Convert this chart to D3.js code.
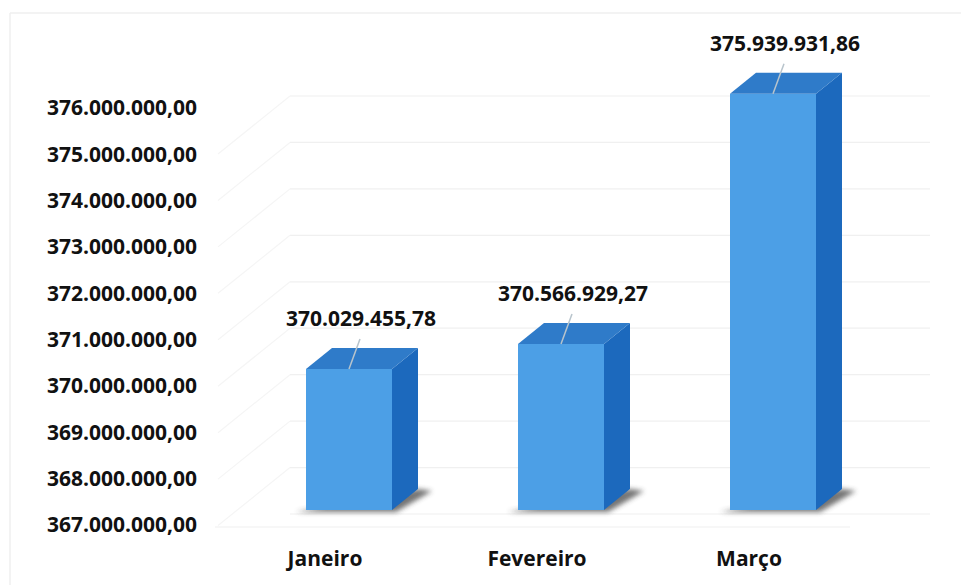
<!DOCTYPE html>
<html>
<head>
<meta charset="utf-8">
<script src="https://cdn.jsdelivr.net/npm/d3@7"></script>
<style>
  html, body { margin: 0; padding: 0; background: #fff; }
  svg text { font-family: "Open Sans", "Noto Sans", sans-serif; font-weight: 700; fill: #111; }
</style>
</head>
<body>
<div id="chart"></div>
<script>
(function () {
  "use strict";

  // data
  const months = ["Janeiro", "Fevereiro", "Março"];
  const values = [370029455.78, 370566929.27, 375939931.86];
  const tickValues = [367, 368, 369, 370, 371, 372, 373, 374, 375, 376].map((d) => d * 1e6);

  const width = 961;
  const height = 585;
  const depth = { dx: 26, dy: 21 }; // bar depth offset
  const barWidth = 86;

  const fmt = (v) => {
    let [int, dec] = v.toFixed(2).split(".");
    int = int.replace(/\B(?=(\d{3})+(?!\d))/g, ".");
    return `${int},${dec}`;
  };

  let svg = d3
    .select("#chart")
    .append("svg")
    .attr("width", width)
    .attr("height", height)
    .attr("viewBox", `0 0 ${width} ${height}`);

  // blur for bar shadows
  svg
    .append("defs")
    .append("filter")
    .attr("id", "blur")
    .attr("x", "-50%")
    .attr("y", "-50%")
    .attr("width", "200%")
    .attr("height", "200%")
    .append("feGaussianBlur")
    .attr("stdDeviation", 2.5);

  // scales: labels, front plane of bars, back wall
  let yLabel = d3.scaleLinear().domain([367e6, 376e6]).range([525, 108]);
  let yFront = d3.scaleLinear().domain([367e6, 376e6]).range([510, 91]);
  let yBack = d3.scaleLinear().domain([367e6, 376e6]).range([514, 96]);
  let x = d3.scalePoint().domain(months).range([349, 773]);

  // faint frame of the scanned chart
  let frame = svg.append("g").attr("stroke", "#efefef").attr("stroke-width", 1.5);
  frame.append("line").attr("x1", 10).attr("x2", width).attr("y1", 13).attr("y2", 13);
  frame.append("line").attr("x1", 10).attr("x2", 10).attr("y1", 13).attr("y2", height);

  // back wall grid + side wall diagonals
  let grid = svg.append("g").attr("stroke", "#f0f0f0").attr("stroke-width", 1.2);
  grid
    .selectAll("line.h")
    .data(tickValues)
    .enter()
    .append("line")
    .attr("x1", 290)
    .attr("x2", 930)
    .attr("y1", (d) => yBack(d))
    .attr("y2", (d) => yBack(d));
  grid
    .selectAll("line.d")
    .data(tickValues.slice(1))
    .enter()
    .append("line")
    .attr("stroke", "#f5f5f5")
    .attr("x1", 218)
    .attr("x2", 290)
    .attr("y1", (d) => yBack(d) + 58)
    .attr("y2", (d) => yBack(d));
  // floor front edge
  grid
    .append("line")
    .attr("x1", 215)
    .attr("x2", 850)
    .attr("y1", yLabel(367e6) + 2)
    .attr("y2", yLabel(367e6) + 2);

  // y axis labels
  svg
    .append("g")
    .selectAll("text")
    .data(tickValues)
    .enter()
    .append("text")
    .attr("x", 197)
    .attr("y", (d) => yLabel(d))
    .attr("dy", "0.35em")
    .attr("text-anchor", "end")
    .attr("font-size", 21)
    .text((d) => fmt(d));

  let bars = svg
    .append("g")
    .selectAll("g.bar")
    .data(months.map((m, i) => ({ month: m, value: values[i] })))
    .enter()
    .append("g")
    .classed("bar", true);

  const base = yFront(367e6);

  // shadow on the floor
  bars
    .append("path")
    .attr("fill", "#3a3a3a")
    .attr("opacity", 0.7)
    .attr("filter", "url(#blur)")
    .attr("d", (d) => {
      let x0 = x(d.month) - barWidth / 2;
      let x1 = x0 + barWidth;
      return `M${x0 - 10},${base + 2} L${x1 + 4},${base + 2} L${x1 + depth.dx + 14},${base - depth.dy + 2} L${x1 + depth.dx},${base - depth.dy} Z`;
    });

  // front face
  bars
    .append("rect")
    .attr("x", (d) => x(d.month) - barWidth / 2)
    .attr("y", (d) => yFront(d.value))
    .attr("width", barWidth)
    .attr("height", (d) => base - yFront(d.value))
    .attr("fill", "#4c9fe6");

  // side face
  bars
    .append("path")
    .attr("fill", "#1c69bd")
    .attr("d", (d) => {
      let x1 = x(d.month) + barWidth / 2;
      let yt = yFront(d.value);
      return `M${x1},${yt} L${x1 + depth.dx},${yt - depth.dy} L${x1 + depth.dx},${base - depth.dy} L${x1},${base} Z`;
    });

  // top face
  bars
    .append("path")
    .attr("fill", "#2f7bc9")
    .attr("d", (d) => {
      let x0 = x(d.month) - barWidth / 2;
      let x1 = x0 + barWidth;
      let yt = yFront(d.value);
      return `M${x0},${yt} L${x1},${yt} L${x1 + depth.dx},${yt - depth.dy} L${x0 + depth.dx},${yt - depth.dy} Z`;
    });

  // leader lines + value labels
  bars
    .append("line")
    .attr("stroke", "#b8c4cc")
    .attr("stroke-width", 1.5)
    .attr("x1", (d) => x(d.month) + 11)
    .attr("y1", (d) => yFront(d.value) - 30)
    .attr("x2", (d) => x(d.month))
    .attr("y2", (d) => yFront(d.value));

  bars
    .append("text")
    .attr("x", (d) => x(d.month) + 12)
    .attr("y", (d) => yFront(d.value) - 43)
    .attr("text-anchor", "middle")
    .attr("font-size", 21)
    .text((d) => fmt(d.value));

  // category labels
  svg
    .append("g")
    .selectAll("text")
    .data(months)
    .enter()
    .append("text")
    .attr("x", (d) => x(d) - 24)
    .attr("y", 566)
    .attr("text-anchor", "middle")
    .attr("font-size", 21)
    .text((d) => d);
})();
</script>
</body>
</html>
